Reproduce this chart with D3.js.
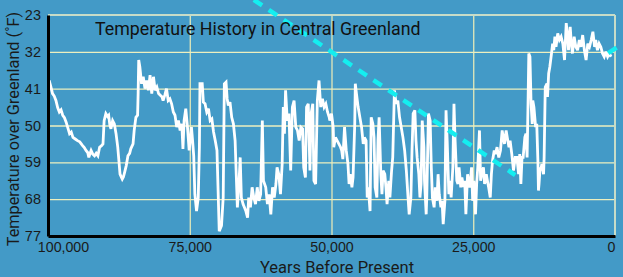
<!DOCTYPE html>
<html>
<head>
<meta charset="utf-8">
<script src="https://cdn.jsdelivr.net/npm/d3@7"></script>
<style>
  body { margin: 0; background: #439ac7; }
  svg { display: block; font-family: Roboto, "Open Sans", sans-serif; }
</style>
</head>
<body>
<div id="chart"></div>
<script>
// time axis is in thousands of years before present
const xTicks = [100, 75, 50, 25, 0];
const tempTicks = [23, 32, 41, 50, 59, 68, 77];

// ice core record (kyr BP / deg F)
const yearsBP = [
  // 100k - 84k
  99.8, 99.5, 99.2, 98.9, 98.6, 98.3, 98.0, 97.7, 97.4, 97.1,
  96.8, 96.5, 96.2, 95.9, 95.6, 95.2, 94.8, 94.4, 93.9, 93.6,
  93.3, 93.0, 92.8, 92.6, 92.4, 92.1, 91.8, 91.5, 91.2, 90.9,
  90.6, 90.3, 90.1, 89.8, 89.5, 89.3, 89.1, 88.9, 88.6, 88.3,
  88.0, 87.7, 87.5, 87.3, 87.1, 86.9, 86.7, 86.5, 86.2, 85.9,
  85.6, 85.4, 85.0, 84.8, 84.5, 84.2, 84.1, 84.0,
  // 84k - 67k
  83.8, 83.5, 83.2, 82.9, 82.6, 82.3, 82.0, 81.7, 81.4, 81.1,
  80.8, 80.5, 80.2, 79.9, 79.7, 79.4, 79.1, 78.8, 78.5, 78.2,
  77.9, 77.6, 77.3, 77.0, 76.7, 76.4, 76.2, 76.0, 75.7, 75.4,
  75.1, 74.8, 74.7, 74.5, 74.3, 74.1, 73.8, 73.5, 73.3, 73.2,
  72.8, 72.6, 72.3, 72.0, 71.7, 71.4, 71.1, 70.8, 70.5, 70.2,
  70.0, 69.8, 69.4, 69.1, 68.9, 68.6, 68.4, 68.2, 67.9, 67.6,
  67.3, 67.0, 66.8,
  // 67k - 50k
  66.6, 66.3, 66.1, 65.9, 65.6, 65.1, 64.8, 64.6, 64.3, 64.0,
  63.7, 63.4, 63.1, 62.8, 62.5, 62.2, 62.0, 61.6, 61.3, 61.0,
  60.7, 60.4, 60.1, 59.8, 59.6, 59.3, 59.0, 58.7, 58.5, 58.3,
  58.1, 57.8, 57.5, 57.2, 56.9, 56.6, 56.3, 56.0, 55.7, 55.4,
  55.1, 54.9, 54.6, 54.4, 54.1, 53.8, 53.6, 53.3, 53.1, 52.8,
  52.5, 52.2, 51.9, 51.6, 51.3, 51.0, 50.7, 50.4,
  // 50k - 34k
  50.3, 50.0, 49.7, 49.6, 49.3, 49.0, 48.7, 48.4, 48.2, 48.0,
  47.7, 47.4, 47.1, 46.9, 46.7, 46.4, 46.2, 45.9, 45.8, 45.6,
  45.3, 45.0, 44.7, 44.4, 44.2, 43.9, 43.7, 43.5, 43.2, 43.0,
  42.7, 42.5, 42.3, 42.0, 41.8, 41.6, 41.3, 41.1, 40.9, 40.6,
  40.4, 40.2, 39.9, 39.7, 39.4, 39.2, 38.9, 38.6, 38.3, 38.0,
  37.7, 37.4, 37.1, 36.8, 36.5, 36.3, 36.0, 35.8, 35.6, 35.3,
  35.1, 34.9, 34.6, 34.4, 34.2,
  // 34k - 17.6k
  34.0, 33.7, 33.6, 33.3, 33.2, 32.9, 32.6, 32.4, 32.2, 31.9,
  31.7, 31.4, 31.2, 31.0, 30.7, 30.5, 30.3, 30.0, 29.8, 29.6,
  29.3, 29.1, 28.9, 28.6, 28.4, 28.2, 27.9, 27.7, 27.5, 27.2,
  27.0, 26.7, 26.5, 26.3, 26.0, 25.8, 25.6, 25.3, 25.1, 24.9,
  24.6, 24.4, 24.2, 23.9, 23.7, 23.5, 23.2, 23.0, 22.7, 22.5,
  22.3, 22.0, 21.8, 21.6, 21.3, 21.1, 20.8, 20.5, 20.2, 19.9,
  19.7, 19.5, 19.2, 19.0, 18.7, 18.5, 18.2, 17.9, 17.6,
  // 17.3k - present
  17.3, 17.0, 16.8, 16.6, 16.4, 16.2, 15.9, 15.7, 15.5, 15.3,
  15.2, 15.0, 14.8, 14.6, 14.5, 14.3, 14.0, 13.8, 13.6, 13.5,
  13.4, 13.2, 13.1, 12.9, 12.6, 12.5, 12.3, 12.0, 11.9, 11.7,
  11.5, 11.2, 11.0, 10.8, 10.6, 10.4, 10.1, 9.8, 9.5, 9.2,
  8.9, 8.6, 8.3, 8.2, 7.9, 7.7, 7.5, 7.2, 6.9, 6.6,
  6.3, 6.0, 5.7, 5.4, 5.1, 4.8, 4.5, 4.2, 3.9, 3.6,
  3.4, 3.1, 2.8, 2.5, 2.2, 1.9, 1.6, 1.3, 1.0, 0.7
];

const tempF = [
  39.0, 40.5, 42.2, 42.8, 43.9, 45.6, 46.7, 46.2, 47.5, 48.1,
  49.2, 50.6, 52.0, 51.6, 52.9, 53.3, 53.7, 54.0, 54.9, 55.4,
  56.1, 56.6, 57.8, 56.9, 56.1, 57.0, 57.4, 56.8, 57.4, 55.3,
  55.0, 54.5, 48.8, 47.1, 47.8, 47.5, 49.8, 50.8, 48.8, 49.6,
  52.0, 55.3, 58.5, 61.9, 62.5, 63.1, 62.6, 61.5, 59.8, 57.4,
  56.8, 55.7, 54.5, 51.2, 48.0, 47.5, 42.0, 34.0,

  35.7, 39.8, 38.1, 41.0, 39.0, 41.4, 37.7, 42.2, 38.1, 41.4,
  40.6, 42.2, 42.6, 43.0, 43.9, 42.6, 41.0, 43.9, 43.5, 44.7,
  46.7, 47.5, 50.4, 48.8, 51.2, 49.6, 55.7, 48.8, 45.9, 50.4,
  56.1, 52.0, 50.4, 53.7, 57.4, 66.8, 70.9, 67.6, 55.3, 39.8,
  39.8, 44.3, 44.7, 46.7, 45.9, 48.8, 48.4, 51.6, 53.7, 56.1,
  65.9, 75.8, 74.5, 67.6, 39.8, 39.4, 43.5, 45.1, 44.3, 48.0,
  49.6, 53.7, 61.9,

  70.0, 63.5, 57.8, 67.6, 69.2, 70.9, 72.5, 67.6, 70.0, 65.1,
  67.6, 69.2, 65.1, 68.4, 66.8, 48.8, 63.5, 65.1, 69.2, 66.8,
  71.7, 65.1, 67.6, 64.3, 60.2, 61.9, 66.8, 59.4, 45.5, 52.0,
  41.4, 48.8, 47.1, 61.0, 45.5, 43.9, 50.4, 51.2, 53.7, 50.4,
  50.8, 60.2, 62.7, 45.5, 44.7, 61.0, 47.1, 44.7, 63.5, 64.3,
  43.9, 39.0, 45.5, 43.5, 45.5, 44.7, 46.7, 48.0,

  48.8, 47.1, 50.4, 55.3, 52.9, 53.7, 54.5, 55.3, 56.1, 58.2,
  50.4, 56.1, 59.4, 64.3, 61.9, 65.1, 62.7, 49.6, 39.8, 42.2,
  45.5, 48.0, 50.4, 54.5, 52.9, 53.7, 67.6, 65.1, 70.9, 48.0,
  49.6, 52.9, 65.1, 67.6, 53.7, 48.0, 61.9, 66.8, 61.0, 61.9,
  65.1, 69.2, 63.5, 67.6, 61.0, 57.8, 41.4, 44.7, 43.9, 48.0,
  50.4, 52.9, 56.1, 61.0, 67.6, 71.7, 67.6, 56.1, 47.1, 46.3,
  53.7, 57.8, 61.9, 67.6, 64.3,

  48.8, 55.3, 63.5, 71.7, 67.6, 47.1, 48.8, 60.2, 67.6, 70.0,
  65.1, 68.4, 61.9, 66.8, 70.0, 68.4, 74.1, 68.4, 46.3, 53.7,
  66.8, 63.5, 67.6, 60.2, 44.7, 53.7, 63.5, 64.3, 60.2, 65.1,
  62.7, 65.0, 63.5, 71.7, 61.9, 64.3, 65.1, 60.2, 68.4, 63.5,
  71.7, 64.3, 60.2, 51.2, 63.5, 61.9, 60.2, 64.3, 61.9, 63.5,
  65.0, 67.6, 61.9, 58.6, 56.1, 57.0, 55.3, 57.8, 56.1, 51.2,
  52.9, 54.5, 51.2, 52.9, 55.3, 53.7, 57.0, 61.0, 57.8,

  57.8, 61.9, 57.0, 64.3, 57.8, 57.8, 52.9, 52.0, 57.8, 41.4,
  32.4, 33.2, 44.7, 49.6, 43.9, 45.5, 50.4, 49.6, 58.6, 65.9,
  64.3, 60.2, 61.0, 59.4, 61.9, 57.8, 40.6, 39.8, 43.0, 37.3,
  35.7, 32.4, 30.0, 31.6, 28.3, 30.8, 27.5, 29.1, 28.3, 30.0,
  34.0, 25.0, 29.1, 31.6, 25.9, 30.0, 32.4, 28.3, 30.8, 31.6,
  29.1, 30.8, 27.9, 31.6, 34.0, 30.0, 30.8, 29.1, 27.1, 30.8,
  29.1, 31.6, 30.0, 30.8, 32.4, 33.2, 32.0, 33.2, 32.4, 33.2
];

// cyan dashed guide lines
const trendYears = [63.7, 17.6];
const trendTemps = [19.3, 62.1];
const edgeYears = [1.2, -1.4];
const edgeTemps = [32.3, 30.0];

const width = 623;
const height = 277;
const margin = { top: 15, right: 8, bottom: 41, left: 48 };

const x = d3.scaleLinear()
  .domain([100, 0])
  .range([margin.left, width - margin.right]);

const y = d3.scaleLinear()
  .domain([23, 77])
  .range([margin.top, height - margin.bottom]);

const svg = d3.select('#chart').append('svg')
  .attr('width', width)
  .attr('height', height);

svg.append('rect')
  .attr('width', width)
  .attr('height', height)
  .attr('fill', '#439ac7');

// grid
const plotW = x(0) - x(100);
const plotH = y(77) - y(23);

svg.append('g')
  .attr('class', 'grid')
  .attr('transform', `translate(${margin.left},0)`)
  .call(d3.axisLeft(y).tickValues(tempTicks.slice(1, -1)).tickSize(-plotW).tickFormat(''))
  .call(g => g.select('.domain').remove())
  .call(g => g.selectAll('line').attr('stroke', '#ecefbf').attr('stroke-width', 1.3));

svg.append('g')
  .attr('class', 'grid')
  .attr('transform', `translate(0,${y(77)})`)
  .call(d3.axisBottom(x).tickValues([75, 50, 25]).tickSize(-plotH).tickFormat(''))
  .call(g => g.select('.domain').remove())
  .call(g => g.selectAll('line').attr('stroke', '#f0efb8').attr('stroke-width', 1.2));

// top and right frame
svg.append('line')
  .attr('x1', x(100)).attr('x2', x(0))
  .attr('y1', y(23)).attr('y2', y(23))
  .attr('stroke', '#c7dcc8').attr('stroke-width', 2);
svg.append('line')
  .attr('x1', x(0)).attr('x2', x(0))
  .attr('y1', y(23)).attr('y2', y(77))
  .attr('stroke', '#c7dcc8').attr('stroke-width', 2);

// temperature record
const record = d3.zip(yearsBP, tempF);
const line = d3.line()
  .x(d => x(d[0]))
  .y(d => y(d[1]));

svg.append('path')
  .datum(record)
  .attr('fill', 'none')
  .attr('stroke', '#ffffff')
  .attr('stroke-width', 2.8)
  .attr('stroke-linejoin', 'miter')
  .attr('stroke-miterlimit', 3)
  .attr('d', line);

// dashed guides
[[trendYears, trendTemps], [edgeYears, edgeTemps]].forEach(([ys, ts]) => {
  svg.append('path')
    .datum(d3.zip(ys, ts))
    .attr('fill', 'none')
    .attr('stroke', '#14eef0')
    .attr('stroke-width', 4.5)
    .attr('stroke-dasharray', '10,8')
    .attr('d', line);
});

// axes
const fmt = d3.format(',');

svg.append('g')
  .attr('transform', `translate(${margin.left},0)`)
  .call(d3.axisLeft(y).tickValues(tempTicks).tickSize(0).tickPadding(7))
  .call(g => g.select('.domain').attr('stroke', '#000').attr('stroke-width', 3))
  .call(g => g.selectAll('text')
    .attr('fill', '#1a1a1a')
    .style('font-size', '14.5px'));

svg.append('g')
  .attr('transform', `translate(0,${y(77)})`)
  .call(d3.axisBottom(x).tickValues(xTicks).tickSize(0).tickPadding(6)
    .tickFormat(d => fmt(d * 1000)))
  .call(g => g.select('.domain').attr('stroke', '#000').attr('stroke-width', 3))
  .call(g => g.selectAll('text')
    .attr('fill', '#1a1a1a')
    .style('font-size', '14.2px')
    .attr('dx', d => d === 100 ? 15 : d === 0 ? -4 : 0));

// titles
svg.append('text')
  .attr('x', 95)
  .attr('y', 35)
  .attr('fill', '#111')
  .style('font-size', '17.8px')
  .text('Temperature History in Central Greenland');

svg.append('text')
  .attr('x', 337)
  .attr('y', 273)
  .attr('text-anchor', 'middle')
  .attr('fill', '#1a1a1a')
  .style('font-size', '16.5px')
  .text('Years Before Present');

svg.append('text')
  .attr('transform', 'translate(19,129) rotate(-90)')
  .attr('text-anchor', 'middle')
  .attr('fill', '#1a1a1a')
  .style('font-size', '16.3px')
  .text('Temperature over Greenland (˚F)');
</script>
</body>
</html>
